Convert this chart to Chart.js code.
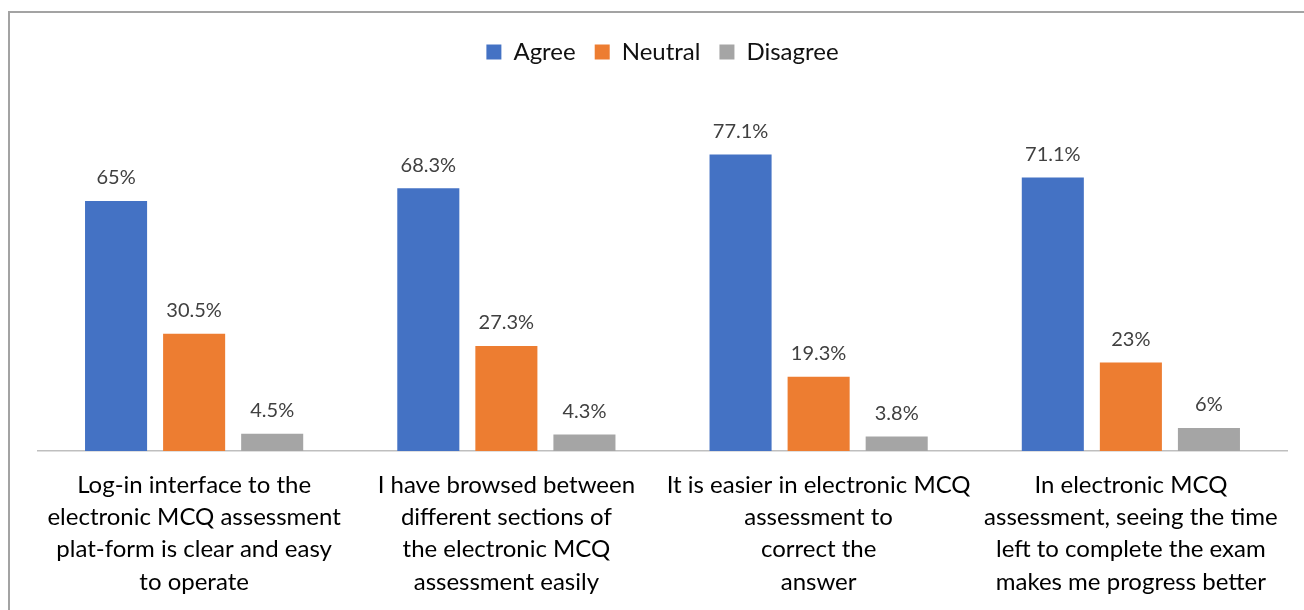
<!DOCTYPE html>
<html>
<head>
<meta charset="utf-8">
<script src="https://cdn.jsdelivr.net/npm/chart.js@4/dist/chart.umd.min.js"></script>
<style>
  html, body { margin: 0; padding: 0; background: #fff; }
  #wrap { position: relative; width: 1304px; height: 610px; }
  #frame { position: absolute; left: 8px; top: 11px; width: 1400px; height: 700px;
           border-left: 2px solid #a3a3a3; border-top: 2px solid #a3a3a3; pointer-events: none; }
</style>
</head>
<body>
<div id="wrap">
  <canvas id="chart" width="1304" height="610"></canvas>
  <div id="frame"></div>
</div>
<script>
// Categories (multi-line axis labels) and survey results in percent
const categories = [
  ['Log-in interface to the', 'electronic MCQ assessment', 'plat-form is clear and easy', 'to operate'],
  ['I have browsed between', 'different sections of', 'the electronic MCQ', 'assessment easily'],
  ['It is easier in electronic MCQ', 'assessment to', 'correct the', 'answer'],
  ['In electronic MCQ', 'assessment, seeing the time', 'left to complete the exam', 'makes me progress better'],
];
const agree = [65, 68.3, 77.1, 71.1];
const neutral = [30.5, 27.3, 19.3, 23];
const disagree = [4.5, 4.3, 3.8, 6];

const FONT = 'Lato, "Open Sans", sans-serif';

// draws the value above each bar
const valueLabels = {
  id: 'valueLabels',
  afterDatasetsDraw(chart) {
    const ctx = chart.ctx;
    ctx.save();
    ctx.font = '20px ' + FONT;
    ctx.fillStyle = '#404040';
    ctx.textAlign = 'center';
    ctx.textBaseline = 'middle';
    chart.data.datasets.forEach((ds, i) => {
      chart.getDatasetMeta(i).data.forEach((bar, j) => {
        ctx.fillText(ds.data[j] + '%', bar.x, bar.y - 23);
      });
    });
    ctx.restore();
  },
};

new Chart(document.getElementById('chart'), {
  type: 'bar',
  data: {
    labels: categories,
    datasets: [
      { label: 'Agree', data: agree, backgroundColor: '#4472c4' },
      { label: 'Neutral', data: neutral, backgroundColor: '#ed7d31' },
      { label: 'Disagree', data: disagree, backgroundColor: '#a5a5a5' },
    ],
  },
  options: {
    responsive: false,
    animation: false,
    layout: { padding: { left: 38, right: 17, top: 21, bottom: 0 } },
    datasets: { bar: { categoryPercentage: 0.75, barPercentage: 0.795 } },
    plugins: {
      legend: {
        position: 'top',
        labels: {
          font: { family: FONT, size: 24 },
          color: '#111',
          boxWidth: 15, boxHeight: 15,
          padding: 19,
        },
      },
      tooltip: { enabled: false },
    },
    scales: {
      x: {
        grid: { display: false, drawTicks: false },
        border: { display: true, color: '#bfbfbf', width: 1.5 },
        ticks: {
          font: { family: FONT, size: 24, lineHeight: 1.345 },
          color: '#000',
          padding: 18,
          maxRotation: 0, autoSkip: false,
        },
        afterFit(scale) { scale.height = 159; },
      },
      y: { display: false, min: 0, max: 98 },
    },
  },
  plugins: [valueLabels],
});
</script>
</body>
</html>
